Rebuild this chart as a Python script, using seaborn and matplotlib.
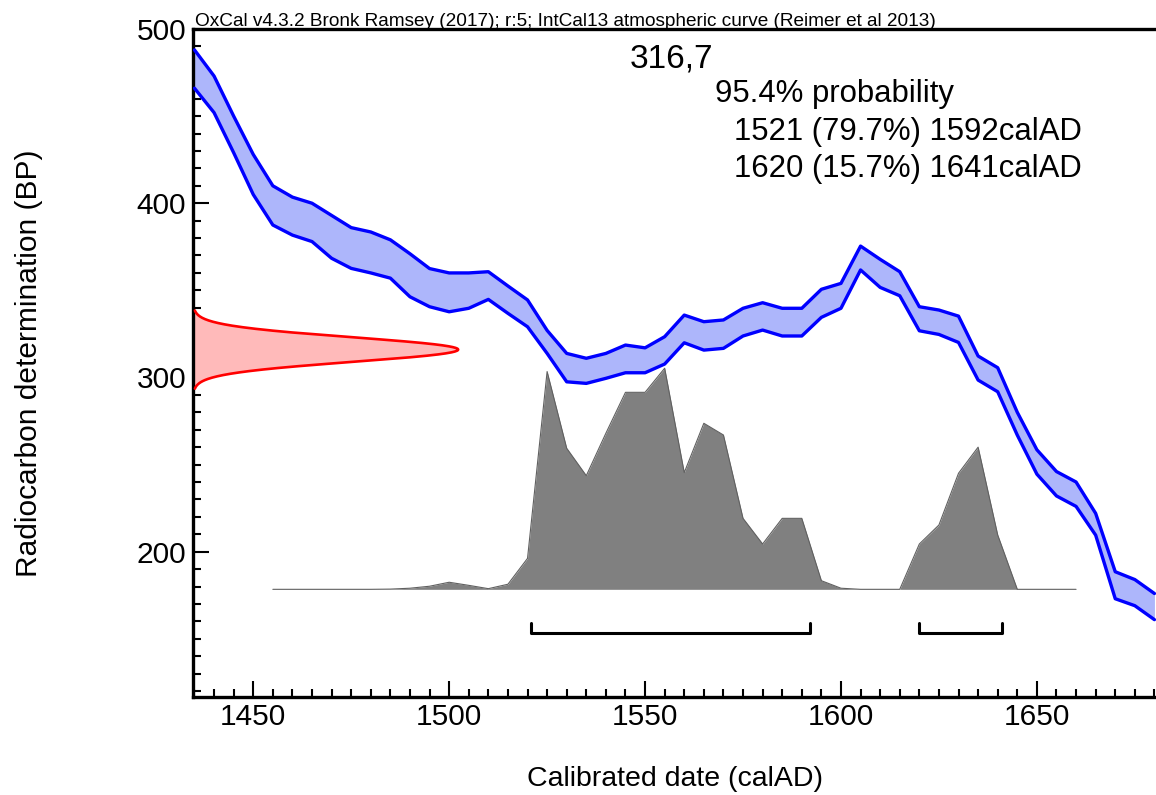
import numpy as np
import pandas as pd
import matplotlib
matplotlib.use("Agg")
import matplotlib.pyplot as plt
from matplotlib.ticker import MultipleLocator
import seaborn as sns

# ---------------- data ----------------
curve_years = list(range(1435, 1685, 5))
curve_upper = [488, 473, 450, 428, 410, 403.5, 400, 393, 386, 383.5,
               379, 371, 362.5, 360, 360, 360.7, 352.5, 344.5, 327, 313.8,
               311, 313.8, 318.6, 317, 323.4, 335.8, 332, 333, 339.7, 342.9,
               339.7, 339.7, 350.6, 354, 375.4, 367.8, 360.7, 340.6, 338.7, 335.2,
               312.3, 305.6, 280, 258.5, 246, 240, 222, 188.5, 184, 176]
curve_lower = [466, 452, 429, 405, 387.5, 381.7, 378, 368.4, 362.6, 360,
               357, 346.3, 340.6, 337.7, 339.7, 344.8, 336.8, 329.1, 313.8, 297.5,
               296.6, 299.5, 302.7, 302.7, 307.7, 319.9, 315.7, 316.7, 323.8, 327.2,
               323.8, 323.8, 334.5, 339.7, 361.7, 351.7, 346.9, 326.8, 324.7, 320.1,
               298.5, 291.8, 266.9, 244.5, 232, 226, 209.5, 173, 169, 161]

prob_years = list(range(1455, 1665, 5))
prob_rel = [0, 0, 0, 0, 0, 0, 0.1, 0.5, 1.4, 3.2,
            1.8, 0.3, 2.3, 14.0, 98.5, 63.8, 51.4, 70.6, 89.1, 89.1,
            100, 52.8, 75.1, 69.8, 32.1, 20.5, 32.1, 32.1, 3.9, 0.5,
            0, 0, 0, 20.5, 29.1, 52.5, 64.3, 24.6, 0, 0,
            0, 0]

range_starts = [1521, 1620]
range_ends = [1592, 1641]
range_pcts = [79.7, 15.7]
prob_level = "95.4% probability"

r_date_bp = 316
r_date_err = 7
sample_label = "316,7"

title_text = "OxCal v4.3.2 Bronk Ramsey (2017); r:5; IntCal13 atmospheric curve (Reimer et al 2013)"
x_label = "Calibrated date (calAD)"
y_label = "Radiocarbon determination (BP)"

# ---------------- style ----------------
sns.set_theme(style="white")
plt.rcParams['font.family'] = ['Liberation Sans', 'DejaVu Sans']

XMIN, XMAX = 1434.7, 1680.4
YMIN, YMAX = 116.6, 500
PROB_BASE = 178.4
PROB_HEIGHT = 126.9
RED_WIDTH = 67.6
BRACKET_Y = 153.6
BRACKET_H = 5.6

fig = plt.figure(figsize=(11.56, 7.95), dpi=100)
ax = fig.add_axes([193.3 / 1156, 1 - 697 / 795, 1 - 193.3 / 1156, (697 - 29) / 795])

line_kw = dict(estimator=None, errorbar=None, sort=False, ax=ax)

# calibration curve band
ax.fill_between(curve_years, curve_lower, curve_upper, color='#adb6fb', lw=0, zorder=2)
sns.lineplot(x=curve_years, y=curve_upper, color='#0000ff', lw=2.4, zorder=3, **line_kw)
sns.lineplot(x=curve_years, y=curve_lower, color='#0000ff', lw=2.4, zorder=3, **line_kw)

# calibrated probability distribution
prob_y = PROB_BASE + np.array(prob_rel) / 100.0 * PROB_HEIGHT
ax.fill_between(prob_years, PROB_BASE, prob_y, color='#808080', lw=0, zorder=1)
sns.lineplot(x=prob_years, y=prob_y, color='#606060', lw=0.8, zorder=1.5, **line_kw)

# radiocarbon date distribution (normal, 316 +/- 7 BP)
bp = np.linspace(r_date_bp - 3.2 * r_date_err, r_date_bp + 3.2 * r_date_err, 300)
w = np.exp(-0.5 * ((bp - r_date_bp) / r_date_err) ** 2) * RED_WIDTH
ax.fill_betweenx(bp, XMIN, XMIN + w, color='#ffbaba', lw=0, zorder=2)
red_df = pd.DataFrame({"x": XMIN + w, "y": bp})
sns.lineplot(data=red_df, x="x", y="y", color='#ff0000', lw=1.9, zorder=3, **line_kw)

# range brackets
for s, e in zip(range_starts, range_ends):
    bdf = pd.DataFrame({"x": [s, s, e, e],
                        "y": [BRACKET_Y + BRACKET_H, BRACKET_Y, BRACKET_Y, BRACKET_Y + BRACKET_H]})
    sns.lineplot(data=bdf, x="x", y="y", color='black', lw=2.2, zorder=3, **line_kw)

ax.set_xlim(XMIN, XMAX)
ax.set_ylim(YMIN, YMAX)

ax.xaxis.set_major_locator(MultipleLocator(50))
ax.xaxis.set_minor_locator(MultipleLocator(5))
ax.yaxis.set_major_locator(MultipleLocator(100))
ax.yaxis.set_minor_locator(MultipleLocator(10))
ax.tick_params(which='major', direction='in', length=11.5, width=1.5, color='black',
               labelsize=21.5, labelcolor='black', bottom=True, left=True, pad=5)
ax.tick_params(which='minor', direction='in', length=5.8, width=1.5, color='black',
               bottom=True, left=True)
ax.tick_params(axis='x', pad=4)

for side in ['left', 'bottom', 'top']:
    ax.spines[side].set_visible(True)
    ax.spines[side].set_color('black')
    ax.spines[side].set_linewidth(2.4)
ax.spines['right'].set_visible(False)
ax.grid(False)
ax.set_facecolor('white')

ax.set_xlabel(x_label, fontsize=20.5, color='black')
ax.set_ylabel(y_label, fontsize=21.5, color='black')
ax.xaxis.set_label_coords(0.5, -0.103)
ax.yaxis.set_label_coords(-0.156, 0.5)

# texts
def fx(px):
    return px / 1156.0

def fy(py):
    return 1 - py / 795.0

fig.text(fx(195), fy(26), title_text, fontsize=13.7, color='black', va='baseline', ha='left')
fig.text(fx(630), fy(67), sample_label, fontsize=24, color='black', va='baseline', ha='left')
fig.text(fx(715), fy(102), prob_level, fontsize=22.4, color='black', va='baseline', ha='left')
for i, (s, p, e) in enumerate(zip(range_starts, range_pcts, range_ends)):
    fig.text(fx(734), fy(140 + 37 * i), f"{s} ({p}%) {e}calAD", fontsize=22.4,
             color='black', va='baseline', ha='left')

fig.savefig("out.png", dpi=100, facecolor='white')
